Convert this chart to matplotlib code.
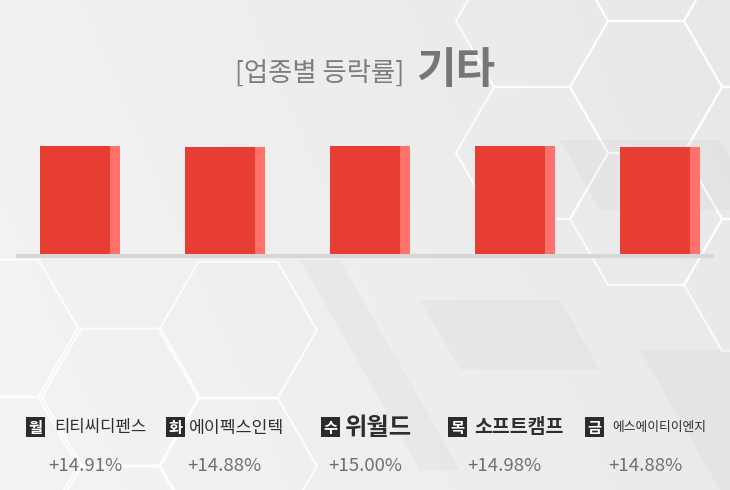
import numpy as np
import matplotlib
matplotlib.use("Agg")
import matplotlib.pyplot as plt
from matplotlib.patches import Polygon, Rectangle

# ---------------- data ----------------
days = ["월", "화", "수", "목", "금"]
companies = ["티티씨디펜스", "에이펙스인텍", "위월드", "소프트캠프", "에스에이티이엔지"]
changes = [14.91, 14.88, 15.00, 14.98, 14.88]
title_prefix = "[업종별 등락률]"
title_sector = "기타"

W, H = 730, 490
FONT = ["Noto Sans CJK KR", "DejaVu Sans"]
plt.rcParams["font.family"] = FONT

fig = plt.figure(figsize=(W / 100, H / 100), dpi=100)

# ---------------- background ----------------
bg = fig.add_axes([0, 0, 1, 1], zorder=0)
bg.set_xlim(0, W)
bg.set_ylim(H, 0)
bg.axis("off")
gx = np.linspace(0, 1, 200)
gy = np.linspace(0, 1, 200)
GX, GY = np.meshgrid(gx, gy)
grad = 0.945 - 0.035 * GX + 0.01 * GY
bg.imshow(np.dstack([grad, grad, grad]), extent=[0, W, H, 0], aspect="auto",
          vmin=0, vmax=1, zorder=0)


def hexagon(cx, cy, s):
    ang = np.deg2rad(np.arange(0, 360, 60))
    return np.column_stack([cx + s * np.cos(ang), cy + s * np.sin(ang)])


# top-right cluster
s1 = 76
for cx, cy in [(646, 87), (532, 21), (532, 153), (760, 21), (760, 153),
               (646, 219), (646, -45), (760, 285)]:
    bg.add_patch(Polygon(hexagon(cx, cy, s1), closed=True, fill=False,
                         ec="white", lw=1.5, alpha=0.85, zorder=1))
# bottom-left cluster
s2 = 79
for cx, cy in [(121, 397), (-1, 328), (238, 466), (-1, 466), (121, 535),
               (238, 330)]:
    bg.add_patch(Polygon(hexagon(cx, cy, s2), closed=True, fill=False,
                         ec="white", lw=1.5, alpha=0.85, zorder=1))
# soft shaded facets
for pts in [[(300, 260), (340, 260), (460, 470), (420, 470)],
            [(640, 350), (820, 350), (900, 490), (720, 490)],
            [(560, 140), (720, 140), (760, 210), (600, 210)],
            [(420, 300), (560, 300), (600, 370), (460, 370)]]:
    bg.add_patch(Polygon(pts, closed=True, fc="#9a9a9a", ec="none",
                         alpha=0.07, zorder=1))

# baseline
bg.add_patch(Rectangle((16, 254), 698, 4, fc="#d6d6d6", ec="none", zorder=2))

# ---------------- bars ----------------
px_unit = 145.0
left_px, bottom_px, top_px = 40.0, 254.0, 145.7
n = len(changes)
xmax = (n - 1) + 80 / px_unit
ax = fig.add_axes([left_px / W, 1 - bottom_px / H,
                   xmax * px_unit / W, (bottom_px - top_px) / H], zorder=3)
ax.patch.set_alpha(0)
ax.set_xlim(0, xmax)
ax.set_ylim(0, 15.0)
ax.axis("off")
x = np.arange(n)
ax.bar(x, changes, width=70 / px_unit, align="edge", color="#e83d33",
       clip_on=False, zorder=3)
ax.bar(x + 70 / px_unit, changes, width=10 / px_unit, align="edge",
       color="#ff716b", clip_on=False, zorder=3)

# ---------------- title ----------------
fig.text(404 / W, 1 - 73 / H, title_prefix, ha="right", va="center",
         fontsize=19, color="#7d7d7d", family=FONT)
fig.text(416 / W, 1 - 70 / H, title_sector, ha="left", va="center",
         fontsize=31, color="#767676", fontweight="bold", family=FONT)

# ---------------- labels ----------------
box_left = [26, 166, 321, 448, 585]
name_left = [54, 189, 345, 474, 612]
name_size = [12.0, 12.4, 17.5, 14.0, 9.2]
name_weight = ["medium", "medium", "bold", "bold", "medium"]
pct_center = [85, 224, 365, 504, 645]

for i in range(n):
    bx = box_left[i]
    bg.add_patch(Rectangle((bx, 417), 19, 20, fc="#2b2b2b", ec="none", zorder=4))
    bg.text(bx + 9.5, 427.5, days[i], ha="center", va="center", fontsize=11,
            color="white", fontweight="bold", family=FONT, zorder=5)
    bg.text(name_left[i], 427.5, companies[i], ha="left", va="center",
            fontsize=name_size[i], color="#2e2e2e", fontweight=name_weight[i],
            family=FONT, zorder=5)
    bg.text(pct_center[i], 466, f"+{changes[i]:.2f}%", ha="center",
            va="center", fontsize=13.4, color="#707070", family=FONT, zorder=5)

fig.savefig("out.png", dpi=100)
